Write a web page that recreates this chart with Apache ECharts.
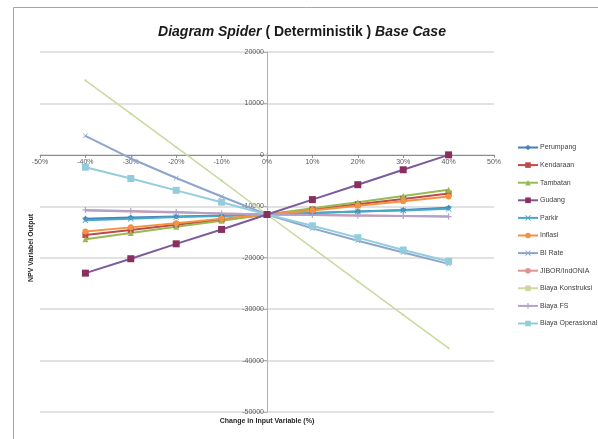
<!DOCTYPE html>
<html>
<head>
<meta charset="utf-8">
<script src="https://cdn.jsdelivr.net/npm/echarts@6/dist/echarts.min.js"></script>
<style>html,body{margin:0;padding:0;background:#fff}#c{width:598px;height:439px}</style>
</head>
<body>
<div id="c"></div>
<script>
const changes = [-40, -30, -20, -10, 0, 10, 20, 30, 40];
const xTicks = [-50, -40, -30, -20, -10, 0, 10, 20, 30, 40, 50];
const yTicks = [-50000, -40000, -30000, -20000, -10000, 0, 10000, 20000];
const seriesNames = ['Perumpang','Kendaraan','Tambatan','Gudang','Parkir','Inflasi','BI Rate','JIBOR/IndONIA','Biaya Konstruksi','Biaya FS','Biaya Operasional'];
const perumpang = [-12400,-12200,-12000,-11800,-11600,-11300,-11000,-10700,-10300];
const kendaraan = [-15600,-14600,-13600,-12600,-11600,-10600,-9600,-8600,-7500];
const tambatan = [-16400,-15200,-14000,-12800,-11600,-10400,-9200,-8000,-6800];
const gudang = [-23000,-20200,-17300,-14500,-11600,-8700,-5800,-2900,0];
const parkir = [-12700,-12400,-12100,-11900,-11600,-11300,-11000,-10800,-10500];
const inflasi = [-14900,-14100,-13300,-12400,-11600,-10800,-9900,-9000,-8100];
const biRate = [3700,-700,-4500,-8100,-11600,-14300,-16700,-19000,-21200];
const jibor = [-10800,-11000,-11200,-11400,-11600,-11700,-11800,-11900,-12000];
const biayaKonstruksi = [14500,8000,1500,-5000,-11600,-18100,-24600,-31100,-37600];
const biayaFS = [-10700,-10900,-11100,-11400,-11600,-11700,-11800,-11900,-12000];
const biayaOperasional = [-2400,-4600,-6900,-9200,-11600,-13800,-16100,-18500,-20700];

const values = [perumpang,kendaraan,tambatan,gudang,parkir,inflasi,biRate,jibor,biayaKonstruksi,biayaFS,biayaOperasional];
const xSym = 'path://M0,1L1,0L5,4L9,0L10,1L6,5L10,9L9,10L5,6L1,10L0,9L4,5Z';
const plusSym = 'path://M4,0H6V4H10V6H6V10H4V6H0V4H4Z';
const styles = [
  {c:'#4A7EBB', m:'diamond', s:6},
  {c:'#BE4B48', m:'rect', s:6},
  {c:'#98B954', m:'triangle', s:6},
  {c:'#7D5A9C', m:'rect', s:7, mc:'#8A2E5C'},
  {c:'#46AAC5', m:xSym, s:6},
  {c:'#F59240', m:'circle', s:6},
  {c:'#8EA5CB', m:xSym, s:5},
  {c:'#DD9594', m:'none', s:4},
  {c:'#C9D9A0', m:'rect', s:2},
  {c:'#B3A2C7', m:plusSym, s:6},
  {c:'#93CDDD', m:'rect', s:7}
];

const series = seriesNames.map((n, i) => ({
  name: n,
  type: 'line',
  data: changes.map((x, j) => [x, values[i][j]]),
  symbol: styles[i].m,
  symbolSize: styles[i].s,
  showSymbol: styles[i].m !== 'none',
  lineStyle: {color: styles[i].c, width: i === 8 ? 1.5 : 2},
  itemStyle: {color: styles[i].mc || styles[i].c},
  z: 2 + (i === 3 ? 10 : 0) + (i === 10 ? 5 : 0),
  animation: false
}));

const gridL = 40, gridR = 104, gridT = 52, gridB = 27;
const plotW = 598 - gridL - gridR, plotH = 439 - gridT - gridB;
const yMin = yTicks[0], yMax = yTicks[yTicks.length - 1];
const xMin = xTicks[0], xMax = xTicks[xTicks.length - 1];
// offsets so that axes sit at the zero lines
const xAxisOffset = -plotH * (0 - yMin) / (yMax - yMin);
const yAxisOffset = -plotW * (0 - xMin) / (xMax - xMin);

const chart = echarts.init(document.getElementById('c'));
chart.setOption({
  animation: false,
  backgroundColor: '#fff',
  title: {
    text: '{a|Diagram Spider }{b|( Deterministik ) }{a|Base Case}',
    left: 297, top: 20, textAlign: 'center',
    textStyle: {rich: {
      a: {fontFamily: 'Liberation Sans', fontSize: 14, fontWeight: 'bold', fontStyle: 'italic', color: '#1a1a1a'},
      b: {fontFamily: 'Liberation Sans', fontSize: 14, fontWeight: 'bold', color: '#1a1a1a'}
    }}
  },
  grid: {left: gridL, right: gridR, top: gridT, bottom: gridB},
  xAxis: {
    type: 'value', min: xMin, max: xMax, interval: 10,
    position: 'bottom', offset: xAxisOffset,
    axisLine: {onZero: false, lineStyle: {color: '#8c8c8c'}},
    axisTick: {show: true, length: 3, lineStyle: {color: '#8c8c8c'}},
    axisLabel: {formatter: v => v + '%', fontSize: 7, color: '#595959', fontFamily: 'Liberation Sans', margin: 4},
    splitLine: {show: false}
  },
  yAxis: {
    type: 'value', min: yMin, max: yMax, interval: 10000,
    position: 'left', offset: yAxisOffset,
    axisLine: {show: true, onZero: false, lineStyle: {color: '#b0b0b0'}},
    axisTick: {show: true, length: 3, lineStyle: {color: '#b0b0b0'}},
    axisLabel: {formatter: v => String(v), fontSize: 7, color: '#595959', fontFamily: 'Liberation Sans', margin: 3},
    splitLine: {lineStyle: {color: '#d9d9d9', width: 1.5}}
  },
  legend: {
    orient: 'vertical', left: 512, top: 139,
    itemWidth: 20, itemHeight: 7, itemGap: 10.6,
    textStyle: {fontSize: 7, color: '#404040', fontFamily: 'Liberation Sans', padding: [0,0,0,-3]},
    data: seriesNames
  },
  graphic: [
    {type: 'rect', shape: {x: 13.5, y: 7.5, width: 600, height: 450}, style: {fill: 'none', stroke: '#a6a6a6', lineWidth: 1}, silent: true},
    {type: 'text', position: [267, 418], style: {text: 'Change in Input Variable (%)', font: 'bold 7px Liberation Sans', fill: '#262626', textAlign: 'center'}},
    {type: 'text', rotation: Math.PI / 2, position: [28, 282], style: {text: 'NPV Variabel Output', font: 'bold 7px Liberation Sans', fill: '#262626'}}
  ],
  series: series
});
</script>
</body>
</html>
